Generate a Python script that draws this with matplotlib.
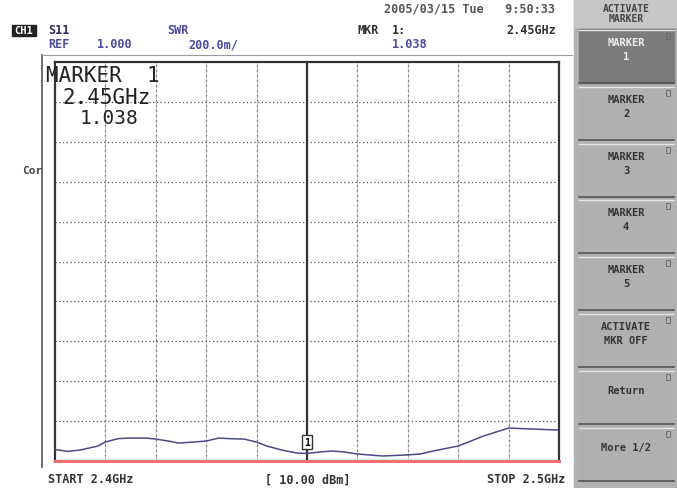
import matplotlib
matplotlib.use('Agg')
import matplotlib.pyplot as plt
from matplotlib.patches import Rectangle
from matplotlib.lines import Line2D

# ---- data ----
freq_ghz = [2.400, 2.4025, 2.405, 2.4085, 2.410, 2.4125, 2.4145, 2.418, 2.420, 2.4225,
            2.4245, 2.4275, 2.430, 2.4325, 2.4345, 2.4375, 2.440, 2.442, 2.445, 2.448,
            2.450, 2.4525, 2.455, 2.4575, 2.460, 2.465, 2.4695, 2.4725, 2.475,
            2.480, 2.485, 2.490, 2.495, 2.500]
svr = [1.058, 1.048, 1.055, 1.075, 1.095, 1.112, 1.115, 1.115, 1.110, 1.100,
       1.090, 1.095, 1.100, 1.115, 1.112, 1.110, 1.095, 1.075, 1.055, 1.040,
       1.038, 1.045, 1.050, 1.045, 1.035, 1.025, 1.030, 1.035, 1.050,
       1.075, 1.125, 1.165, 1.160, 1.155]
marker_freq = 2.45
marker_svr = 1.038
start_ghz, stop_ghz = 2.4, 2.5
ref_svr = 1.0
scale_per_div = 0.2
n_div = 10
softkeys = ["MARKER\n1", "MARKER\n2", "MARKER\n3", "MARKER\n4", "MARKER\n5",
            "ACTIVATE\nMKR OFF", "Return", "More 1/2"]

W, H = 677, 489
fig = plt.figure(figsize=(W / 100, H / 100), dpi=100)
fig.patch.set_facecolor('white')
MONO = 'DejaVu Sans Mono'


def ft(x, y, s, **kw):
    kw.setdefault('family', MONO)
    kw.setdefault('weight', 'bold')
    kw.setdefault('va', 'center')
    fig.text(x / W, 1 - y / H, s, **kw)


def fline(x0, y0, x1, y1, **kw):
    fig.add_artist(Line2D([x0 / W, x1 / W], [1 - y0 / H, 1 - y1 / H],
                          transform=fig.transFigure, **kw))


def frect(x, y, w, h, **kw):
    fig.add_artist(Rectangle((x / W, 1 - (y + h) / H), w / W, h / H,
                             transform=fig.transFigure, **kw))


# ---- main plot area ----
L, T, R, B = 55, 63, 559, 462
ax = fig.add_axes([L / W, 1 - B / H, (R - L) / W, (B - T) / H])
ax.set_xlim(start_ghz, stop_ghz)
ax.set_ylim(ref_svr, ref_svr + scale_per_div * n_div)
ax.set_xticks([]); ax.set_yticks([])
for s in ax.spines.values():
    s.set_color('#333333'); s.set_linewidth(1.6)

step_x = (stop_ghz - start_ghz) / n_div
for i in range(1, n_div):
    x = start_ghz + i * step_x
    ax.axvline(x, color='#c4c4c4', lw=0.6)
    ax.axvline(x, color='#555555', lw=0.9, ls=(0, (1, 3)))
    y = ref_svr + i * scale_per_div
    ax.axhline(y, color='#555555', lw=0.9, ls=(0, (1, 2)))

ax.axvline(marker_freq, color='#333333', lw=1.6)
ax.axhline(ref_svr, color='#ee6f6f', lw=2.2, clip_on=False, zorder=4)
ax.plot(freq_ghz, svr, color='#4a4a86', lw=1.1, zorder=5)
ax.annotate('1', (marker_freq, marker_svr), xytext=(0, 8), textcoords='offset points',
            ha='center', va='center', fontsize=7, family=MONO, weight='bold',
            bbox=dict(boxstyle='square,pad=0.2', fc='white', ec='#333333', lw=1.0),
            zorder=6)

# marker readout inside plot
ft(46, 76, "MARKER  1", fontsize=15, weight='normal', color='#222222')
ft(63, 98, "2.45GHz", fontsize=15, weight='normal', color='#222222')
ft(80, 118, "1.038", fontsize=14, weight='normal', color='#222222')

# outer frame / header
fline(42, 56, 42, 468, color='#555555', lw=1.2)
fline(42, 56, 572, 56, color='#999999', lw=0.8)

# header texts
frect(12, 26, 24, 11, color='#222222')
ft(24, 31.5, "CH1", fontsize=7.5, color='white', ha='center')
ft(48, 31, "S11", fontsize=8.5, color='#2b2b55')
ft(167, 31, "SWR", fontsize=8.5, color='#4b4ba0')
ft(48, 45, "REF", fontsize=8.5, color='#4b4ba0')
ft(97, 45, "1.000", fontsize=8.5, color='#4b4ba0')
ft(188, 45, "200.0m/", fontsize=8.5, color='#4b4ba0')
ft(357, 31, "MKR", fontsize=8.5, color='#333333')
ft(392, 31, "1:", fontsize=8.5, color='#333333')
ft(392, 45, "1.038", fontsize=8.5, color='#4b4ba0')
ft(556, 31, "2.45GHz", fontsize=8.5, color='#333333', ha='right')
ft(555, 9, "2005/03/15 Tue   9:50:33", fontsize=8.5, color='#555555', ha='right')
ft(22, 171, "Cor", fontsize=8, color='#444444')

# footer
ft(48, 480, "START 2.4GHz", fontsize=8.5, color='#333333')
ft(265, 480, "[ 10.00 dBm]", fontsize=8.5, color='#333333')
ft(565, 480, "STOP 2.5GHz", fontsize=8.5, color='#333333', ha='right')

# ---- soft key panel ----
frect(574, 0, W - 574, H, color='#b2b2b2')
frect(574, 0, W - 574, 28, color='#c6c6c6')
ft(626, 9, "ACTIVATE", fontsize=7, color='#444444', ha='center')
ft(626, 19, "MARKER", fontsize=7, color='#444444', ha='center')
btn_y = [30, 87, 144, 200, 257, 314, 371, 428]
btn_h = 54
for i, (label, y0) in enumerate(zip(softkeys, btn_y)):
    active = (i == 0)
    frect(579, y0, 95, btn_h, color='#7c7c7c' if active else '#b0b0b0')
    fline(579, y0 + 0.5, 674, y0 + 0.5, color='#e6e6e6', lw=1)
    fline(579, y0 + btn_h, 674, y0 + btn_h, color='#555555', lw=1.2)
    ft(626, y0 + 20, label, fontsize=7.5, color='#f0f0f0' if active else '#333333',
       ha='center', linespacing=1.45)
    frect(666, y0 + 4, 4, 6, fill=False, ec='#666666', lw=0.6)

fig.savefig('out.png', dpi=100, facecolor='white')
